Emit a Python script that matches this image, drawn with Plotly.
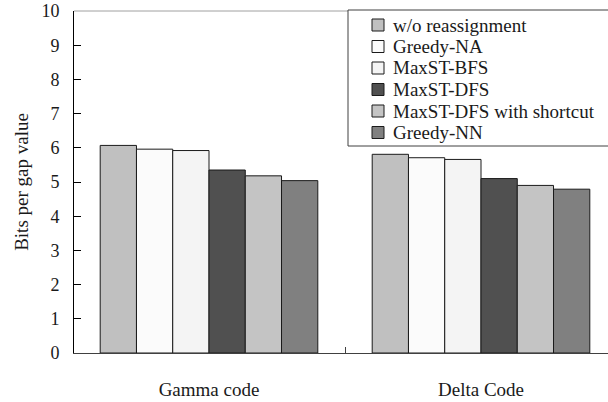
import plotly.graph_objects as go

categories = ["Gamma code", "Delta Code"]
series_names = ["w/o reassignment", "Greedy-NA", "MaxST-BFS", "MaxST-DFS",
                "MaxST-DFS with shortcut", "Greedy-NN"]
values_gamma = [6.07, 5.96, 5.92, 5.35, 5.18, 5.04]
values_delta = [5.81, 5.71, 5.66, 5.10, 4.90, 4.79]
colors = ["#c0c0c0", "#fbfbfb", "#f4f4f4", "#505050", "#c4c4c4", "#808080"]
y_ticks = list(range(0, 11))

FONT = "Liberation Serif"
W, H = 608, 402
ML, MR, MT, MB = 74, 0, 11, 49
PW, PH = W - ML - MR, H - MT - MB

def px2fx(px):
    return (px - ML) / PW

def py2fy(py):
    return 1 - (py - MT) / PH

fig = go.Figure()
xpos = list(range(len(categories)))
for i, name in enumerate(series_names):
    fig.add_trace(go.Bar(
        x=xpos, y=[values_gamma[i], values_delta[i]], name=name,
        marker=dict(color=colors[i], line=dict(color="#1a1a1a", width=1)),
        showlegend=False,
    ))

# x range: group spacing 272px, gamma centre at 209px
unit = 272.0
r0 = -(209 - ML) / unit
r1 = r0 + PW / unit

fig.update_layout(
    width=W, height=H,
    margin=dict(l=ML, r=MR, t=MT, b=MB, pad=0),
    paper_bgcolor="white", plot_bgcolor="white",
    barmode="group", bargap=0.2, bargroupgap=0,
    font=dict(family=FONT, size=19, color="#1a1a1a"),
    xaxis=dict(
        range=[r0, r1], tickmode="array", tickvals=xpos, ticktext=categories,
        ticks="", showgrid=False, zeroline=False,
        showline=True, linecolor="#404040", linewidth=1,
        tickfont=dict(family=FONT, size=19, color="#1a1a1a"),
        ticklabelstandoff=19,
        minor=dict(tickmode="array", tickvals=[0.5], ticks="inside",
                   ticklen=6, tickcolor="#404040", tickwidth=1, showgrid=False),
    ),
    yaxis=dict(
        range=[0, 10], tickmode="array", tickvals=y_ticks,
        ticks="inside", ticklen=7, tickcolor="#000000", tickwidth=1,
        showgrid=False, zeroline=False,
        showline=True, linecolor="#000000", linewidth=1,
        tickfont=dict(family=FONT, size=18, color="#1a1a1a"),
        ticklabelstandoff=10,
        title=dict(text="Bits per gap value", font=dict(family=FONT, size=19, color="#1a1a1a"),
                   standoff=7),
    ),
)

# top border of plot area
fig.add_shape(type="line", xref="paper", yref="paper", x0=0, x1=1, y0=1, y1=1,
              line=dict(color="#a0a0a0", width=1))

# custom legend box
box_l, box_t, box_r, box_b = 348, 10, 640, 146
fig.add_shape(type="rect", xref="paper", yref="paper",
              x0=px2fx(box_l), x1=px2fx(box_r), y0=py2fy(box_b), y1=py2fy(box_t),
              line=dict(color="#404040", width=1), fillcolor="white", layer="above")
row0, row_gap = 25, 21.5
for i, name in enumerate(series_names):
    cy = row0 + i * row_gap
    fig.add_shape(type="rect", xref="paper", yref="paper",
                  x0=px2fx(372), x1=px2fx(384), y0=py2fy(cy + 6), y1=py2fy(cy - 6),
                  line=dict(color="#1a1a1a", width=1), fillcolor=colors[i], layer="above")
    fig.add_annotation(xref="paper", yref="paper", x=px2fx(391), y=py2fy(cy),
                       text=name, showarrow=False, xanchor="left", yanchor="middle",
                       font=dict(family=FONT, size=19, color="#1a1a1a"))

fig.write_html("out.html")
